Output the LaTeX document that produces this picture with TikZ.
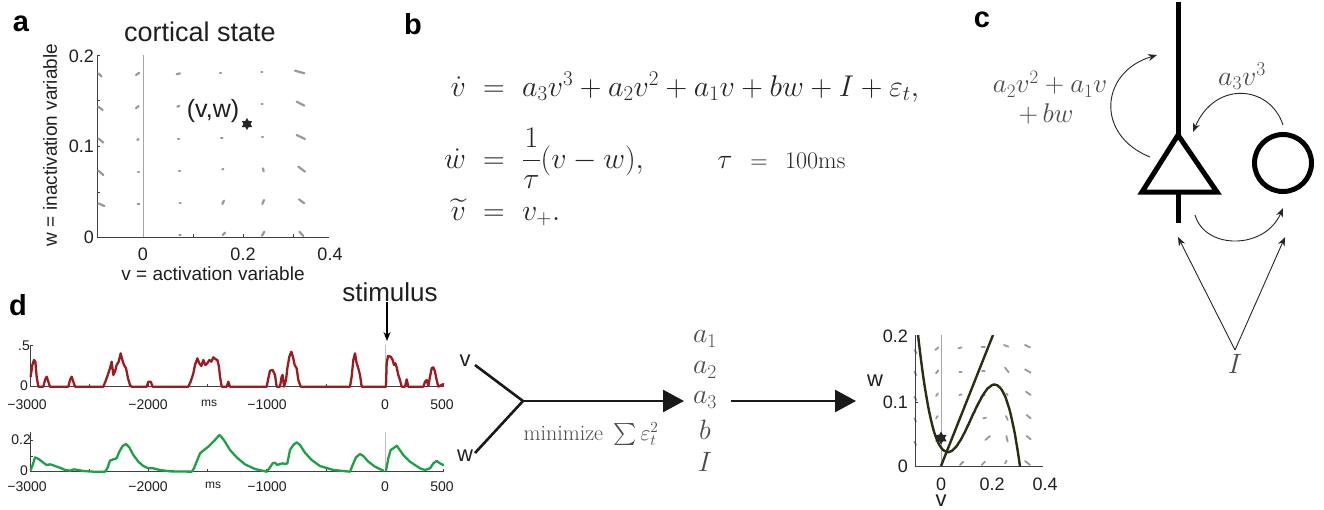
\RequirePackage{fix-cm}
\documentclass[tikz,border=0pt]{standalone}
\usepackage{fontspec}
\newfontfamily\arial{Liberation Sans}
\DeclareFontShape{OMX}{cmex}{m}{n}{<-> cmex10}{}
\usetikzlibrary{arrows.meta,shapes.geometric}
\definecolor{tracered}{RGB}{155,28,32}
\definecolor{tracegreen}{RGB}{30,160,70}
\definecolor{olive}{RGB}{45,45,20}
\begin{document}
\begin{tikzpicture}[x=1pt,y=-1pt,
  every node/.style={inner sep=0pt},
  panel/.style={font=\arial\bfseries\fontsize{29}{29}\selectfont},
  sans/.style={font=\arial\fontsize{#1}{#1}\selectfont, text=black!88},
  sans/.default=19,
  eq/.style={font=\fontsize{#1}{#1}\selectfont, text=black!85},
  eq/.default=30,
  geq/.style={font=\fontsize{#1}{#1}\selectfont, text=black!70},
  geq/.default=27,
  axisline/.style={line width=1pt, draw=black!75},
  stimline/.style={line width=1pt, draw=black!25},
  quiv/.style={line width=2.2pt, draw=black!40, line cap=round},
  rquiv/.style={line width=1.8pt, draw=black!40, line cap=round},
  hexstar/.style={star, star points=6, star point ratio=1.73, fill=black!85, draw=none, minimum size=12pt},
  thickline/.style={line width=5pt, draw=black},
  thinarrow/.style={line width=0.9pt, draw=black!85, -{Stealth[length=9pt,width=7pt]}},
  bigarrow/.style={line width=2.6pt, draw=black!90, -{Triangle[length=21pt,width=22pt]}},
  trace/.style={line width=2.3pt, line join=round, line cap=round},
]
\useasboundingbox[fill=white] (0,0) rectangle (1324,509);

% ================= panel a =================
\node[panel] (la) at (21,24) {a};
\node[sans=27] (ta) at (200,32) {cortical state};
\draw[stimline, draw=black!35] (143,55) -- (143,237);
\draw[axisline] (97,55) -- (97,237) -- (329,237);
\foreach \yy in {55,100,146,192} \draw[axisline] (97,\yy) -- (100,\yy);
\foreach \xx in {193,243,293} \draw[axisline] (\xx,237) -- (\xx,234);
\node[sans=18, anchor=east] (ya2) at (94,56) {0.2};
\node[sans=18, anchor=east] (ya1) at (94,146) {0.1};
\node[sans=18, anchor=east] (ya0) at (94,237) {0};
\node[sans=18] (xa0) at (143,254) {0};
\node[sans=18] (xa2) at (243,254) {0.2};
\node[sans=18] (xa4) at (330,254) {0.4};
\node[sans=19] (xla) at (213,274) {v = activation variable};
\node[sans=19, rotate=90] (yla) at (50,145) {w = inactivation variable};
\begin{scope}[shift={(90,50)}, x=0.33333pt, y=-0.33333pt]
  \foreach \a/\b/\c/\d in {
    25/70/35/80, 138/75/148/68, 260/73/270/70, 390/70/393/70, 514/67/517/67, 615/62/643/70,
    25/170/38/180, 138/175/146/168, 262/170/268/168, 515/162/518/162, 620/155/643/167,
    25/265/40/278, 142/270/146/267, 264/267/267/267, 393/265/398/265, 516/262/519/262, 620/255/645/267,
    25/362/40/375, 144/367/147/367, 267/363/270/363, 397/358/400/357, 519/355/521/364, 625/350/645/365,
    25/460/43/468, 143/463/148/463, 269/460/272/460, 397/462/402/452, 517/462/522/450, 627/448/643/460,
    268/555/272/555, 398/555/405/548, 516/557/523/545, 628/545/640/558}
    \draw[quiv] (\a,\b) -- (\c,\d);
\end{scope}
\node[sans=25] (vw) at (213,111) {(v,w)};
\node[hexstar] (sa) at (247,124) {};

% ================= panel b =================
\node[panel] (lb) at (413,24) {b};
\node[eq, anchor=base east] (l1) at (466,96) {$\dot v$};
\node[eq, anchor=base] (e1) at (494,96) {$=$};
\node[eq, anchor=base west] (r1) at (522,96) {$a_3v^3+a_2v^2+a_1v+bw+I+\varepsilon_t,$};
\node[eq, anchor=base east] (l2) at (466,168) {$\dot w$};
\node[eq, anchor=base] (e2) at (494,168) {$=$};
\node[eq, anchor=base west] (r2) at (522,168) {$\displaystyle\frac{1}{\tau}(v-w),$};
\node[eq=28, anchor=base] (tau) at (725,168) {$\tau$};
\node[eq=24, anchor=base] (e4) at (759,168) {$=$};
\node[eq=24, anchor=base west] (ms) at (785,168) {$100\mathrm{ms}$};
\node[eq, anchor=base east] (l3) at (466,220) {$\widetilde{v}$};
\node[eq, anchor=base] (e3) at (494,220) {$=$};
\node[eq, anchor=base west] (r3) at (522,220) {$v_+.$};

% ================= panel c =================
\node[panel] (lc) at (982,20) {c};
\coordinate (axtop) at (1178,2);
\coordinate (apex) at (1178,135);
\coordinate (bl) at (1142,192);
\coordinate (br) at (1217,192);
\coordinate (stem) at (1178,223);
\draw[thickline] (axtop) -- (apex);
\draw[thickline, line join=miter] (apex) -- (br) -- (bl) -- cycle;
\draw[thickline] (1178,192) -- (stem);
\node[circle, draw, line width=5pt, minimum size=57pt] (inh) at (1283,163) {};
\coordinate (c1s) at (1150,157);
\coordinate (c1e) at (1157,55);
\draw[thinarrow] (c1s) .. controls (1095,135) and (1100,72) .. (c1e);
\node[geq] (lab1) at (1050,84) {$a_2v^2+a_1v$};
\node[geq] (lab2) at (1046,114) {$+\,bw$};
\coordinate (c2s) at (1283,125);
\coordinate (c2e) at (1193,132);
\draw[thinarrow] (c2s) .. controls (1270,85) and (1215,80) .. (c2e);
\node[geq=28] (lab3) at (1242,76) {$a_3v^3$};
\coordinate (c3s) at (1195,215);
\coordinate (c3e) at (1283,208);
\draw[thinarrow] (c3s) .. controls (1205,250) and (1265,250) .. (c3e);
\node[geq=28] (Ic) at (1235,364) {$I$};
\coordinate (Itop) at (1235,350);
\coordinate (ipyr) at (1178,237);
\coordinate (iinh) at (1285,237);
\draw[thinarrow] (Itop) -- (ipyr);
\draw[thinarrow] (Itop) -- (iinh);

% ================= panel d =================
\node[panel] (ld) at (18,305) {d};
\node[sans=26] (stim) at (390,292) {stimulus};
\coordinate (stimtip) at (387,341);
\draw[line width=1.2pt, -{Stealth[length=9pt,width=7pt]}] (stim.south -| stimtip) -- (stimtip);

% top trace axes
\begin{scope}[shift={(0,280)}, x=0.33333pt, y=-0.33333pt]
  \draw[stimline] (1155,195) -- (1155,320);
  \draw[axisline] (100,195) -- (92,195) -- (92,320) -- (1330,320);
  \foreach \xx in {268,445,623,800,978,1155,1330} \draw[axisline] (\xx,320) -- (\xx,312);
  \draw[trace, tracered] plot coordinates {(92,290) (97,255) (102,240) (106,245) (110,290) (115,320) (130,320) (135,300) (140,290) (145,305) (150,320) (205,320) (210,300) (215,290) (220,305) (225,320) (310,320) (318,300) (325,280) (330,265) (335,245) (340,285) (345,275) (350,255) (356,245) (362,220) (367,240) (372,255) (378,265) (384,295) (390,315) (395,320) (440,320) (445,305) (452,305) (458,320) (565,320) (572,305) (580,280) (585,255) (592,235) (598,250) (604,258) (610,240) (616,255) (622,250) (628,240) (634,245) (640,232) (646,237) (652,240) (657,260) (660,290) (665,320) (680,320) (685,305) (690,320) (800,320) (805,295) (810,272) (818,270) (825,285) (830,320) (840,320) (845,290) (848,285) (852,320) (858,300) (862,265) (868,230) (874,215) (880,235) (884,255) (890,265) (895,300) (902,320) (1050,320) (1055,290) (1060,240) (1065,220) (1070,250) (1075,265) (1080,285) (1085,320) (1158,320) (1160,250) (1164,228) (1172,230) (1178,240) (1182,255) (1186,250) (1190,262) (1195,285) (1200,300) (1205,320) (1215,320) (1220,298) (1225,320) (1270,320) (1275,305) (1280,300) (1285,318) (1290,290) (1295,265) (1300,262) (1305,275) (1310,300) (1315,320) (1330,312)};
\end{scope}
\node[sans=14, anchor=east] (t5) at (30,346) {.5};
\node[sans=14, anchor=east] (t0) at (28,386) {0};
\node[sans=14] (m3a) at (27,405) {−3000};
\node[sans=14] (m2a) at (148,405) {−2000};
\node[sans=12] (msa) at (209,403) {ms};
\node[sans=14] (m1a) at (267,405) {−1000};
\node[sans=14] (z0a) at (385,405) {0};
\node[sans=14] (p5a) at (442,405) {500};

% bottom trace axes
\begin{scope}[shift={(0,400)}, x=0.33333pt, y=-0.33333pt]
  \draw[stimline] (1155,95) -- (1155,215);
  \draw[axisline] (92,95) -- (92,215) -- (1330,215);
  \draw[axisline] (92,120) -- (100,120);
  \draw[axisline] (92,170) -- (100,170);
  \foreach \xx in {268,445,623,800,978,1155,1330} \draw[axisline] (\xx,215) -- (\xx,207);
  \draw[trace, tracegreen] plot coordinates {(92,210) (98,195) (105,172) (112,175) (120,180) (130,188) (140,195) (150,193) (160,196) (170,200) (185,205) (195,210) (210,212) (222,208) (235,210) (250,213) (280,215) (315,215) (322,205) (330,182) (340,178) (350,175) (358,155) (368,138) (378,132) (388,142) (400,165) (415,185) (430,198) (445,205) (460,205) (480,210) (510,214) (575,215) (582,205) (590,185) (600,160) (612,150) (625,140) (640,125) (652,112) (658,105) (664,110) (675,125) (690,150) (710,172) (735,193) (765,207) (800,215) (808,205) (818,190) (825,188) (832,195) (840,192) (848,190) (855,192) (862,190) (870,150) (880,135) (890,127) (900,135) (915,158) (935,180) (960,198) (1000,210) (1050,215) (1058,195) (1068,172) (1080,162) (1090,168) (1105,185) (1125,200) (1150,212)};
  \draw[trace, tracegreen] plot coordinates {(1158,212) (1165,175) (1172,150) (1180,145) (1190,137) (1198,148) (1210,165) (1230,185) (1260,205) (1275,210) (1290,205) (1300,190) (1310,183) (1320,190) (1330,195)};
\end{scope}
\node[sans=14, anchor=east] (b2) at (31,440) {0.2};
\node[sans=14, anchor=east] (b0) at (28,471) {0};
\node[sans=14] (m3b) at (27,487) {−3000};
\node[sans=14] (m2b) at (148,487) {−2000};
\node[sans=12] (msb) at (213,485) {ms};
\node[sans=14] (m1b) at (267,487) {−1000};
\node[sans=14] (z0b) at (385,487) {0};
\node[sans=14] (p5b) at (442,487) {500};

% ================= fitting arrows =================
\node[sans=22] (vin) at (465,361) {v};
\node[sans=22] (win) at (465,456) {w};
\coordinate (vstart) at (475,365);
\coordinate (wstart) at (475,453);
\coordinate (junc) at (523,401);
\draw[line width=2.6pt, draw=black!90] (vstart) -- (junc) -- (wstart);
\node[geq=28] (p1) at (705,339) {$a_1$};
\node[geq=28] (p2) at (705,370) {$a_2$};
\node[geq=28] (p3) at (705,400) {$a_3$};
\node[geq=28] (p4) at (705,430) {$b$};
\node[geq=28] (p5) at (705,462) {$I$};
\coordinate (tip1) at (684,401);
\draw[bigarrow] (junc) -- (tip1);
\node[geq=22] (minz) at (591,434) {$\mathrm{minimize}\ \sum\varepsilon_t^2$};
\coordinate (a2s) at (731,401);
\coordinate (tip2) at (856,401);
\draw[bigarrow] (a2s) -- (tip2);

% ================= right phase plot =================
\draw[stimline, draw=black!35] (941,335) -- (941,466);
\begin{scope}[shift={(910,330)}, x=0.33333pt, y=-0.33333pt]
  \foreach \a/\b/\c/\d in {
    14/60/20/70, 13/125/19/135, 13/200/19/210, 13/265/18/275, 13/335/18/345,
    76/60/85/52, 78/130/85/121, 78/198/84/190, 78/265/83/258,
    145/55/155/52, 148/125/155/125, 148/195/155/193,
    215/50/225/50, 216/122/224/122, 218/195/225/195, 220/265/228/263, 226/330/240/318,
    282/45/295/50, 285/113/296/127, 289/190/293/196, 288/258/293/270, 289/318/293/335,
    345/45/360/52, 345/118/362/128, 348/185/362/195, 350/255/362/265, 350/318/362/328, 345/393/360/405,
    150/405/160/395, 215/405/225/395, 285/400/290/392}
    \draw[rquiv] (\a,\b) -- (\c,\d);
\end{scope}
\draw[axisline] (915,335) -- (915,466) -- (1043,466);
\draw[axisline] (915,402) -- (918,402);
\begin{scope}
  \clip (915,335) rectangle (1043,466);
  \draw[line width=2.4pt, olive] (941,466) -- (993,335);
  \draw[line width=2.4pt, olive, smooth] plot[domain=-0.1:0.32, samples=90]
    ({941+255*\x}, {466-655*(-33.6*(\x*\x*\x-0.3555*\x*\x+0.01701*\x)+0.0284)});
\end{scope}
\node[hexstar, minimum size=13pt] (sr) at (941,438) {};
\node[sans=18, anchor=east] (r2l) at (908,336) {0.2};
\node[sans=18, anchor=east] (r1l) at (908,402) {0.1};
\node[sans=18, anchor=east] (r0l) at (908,466) {0};
\node[sans=18] (rx0) at (941,484) {0};
\node[sans=18] (rx2) at (992,484) {0.2};
\node[sans=18] (rx4) at (1045,484) {0.4};
\node[sans=22] (rw) at (875,381) {w};
\node[sans=22] (rv) at (941,501) {v};
\end{tikzpicture}
\end{document}
